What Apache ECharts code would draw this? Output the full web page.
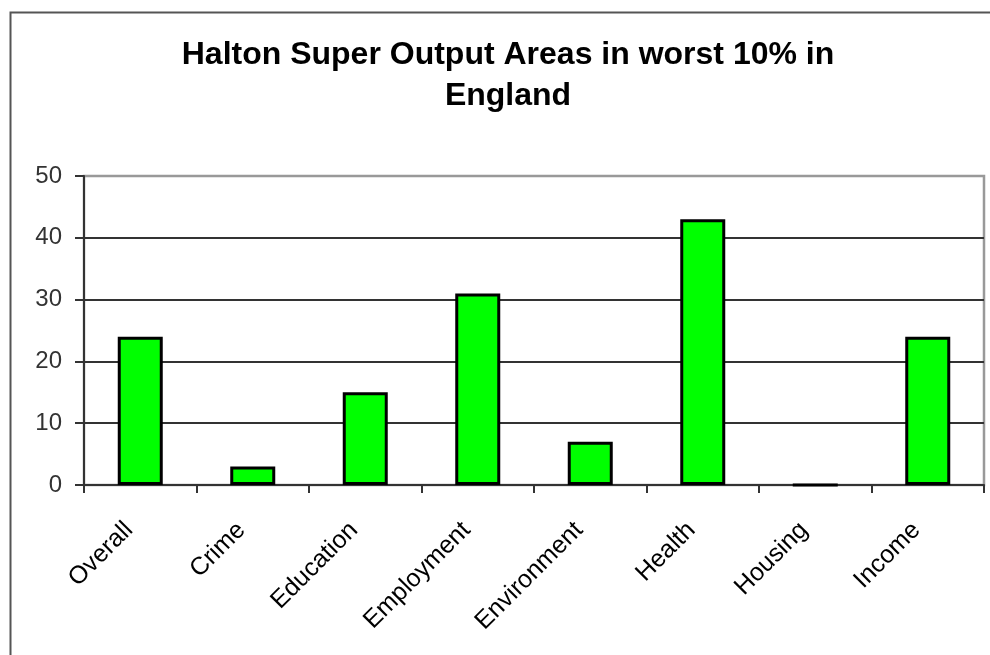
<!DOCTYPE html>
<html>
<head>
<meta charset="utf-8">
<script src="https://cdn.jsdelivr.net/npm/echarts@6/dist/echarts.min.js"></script>
<style>
html,body{margin:0;padding:0;background:#fff;}
#chart{width:990px;height:655px;}
</style>
</head>
<body>
<div id="chart"></div>
<script>
var categories = ['Overall','Crime','Education','Employment','Environment','Health','Housing','Income'];
var values = [24, 3, 15, 31, 7, 43, 0, 24];
var yTicks = [0, 10, 20, 30, 40, 50];

var chart = echarts.init(document.getElementById('chart'));
chart.setOption({
  backgroundColor: '#ffffff',
  animation: false,
  title: {
    text: 'Halton Super Output Areas in worst 10% in\nEngland',
    left: 503,
    textAlign: 'center',
    top: 30,
    textStyle: {
      fontFamily: 'Liberation Sans, Arial, sans-serif',
      fontWeight: 'bold',
      fontSize: 32,
      lineHeight: 41,
      color: '#000'
    }
  },
  graphic: [{
    type: 'rect',
    shape: {x: 10.5, y: 12.5, width: 1200, height: 1000},
    style: {fill: 'none', stroke: '#555', lineWidth: 2},
    silent: true
  }],
  grid: {
    left: 84, right: 6, top: 176, bottom: 170,
    show: true, borderColor: '#999', borderWidth: 2.5, backgroundColor: 'transparent'
  },
  xAxis: {
    type: 'category',
    data: categories,
    axisLine: {lineStyle: {color: '#333', width: 2}},
    axisTick: {show: true, length: 8, lineStyle: {color: '#333', width: 2}},
    axisLabel: {
      rotate: 45, interval: 0, margin: 30,
      padding: [0, 16, 0, 0],
      fontFamily: 'Liberation Sans, Arial, sans-serif', fontSize: 25, color: '#000'
    }
  },
  yAxis: {
    type: 'value',
    min: yTicks[0], max: yTicks[yTicks.length - 1], interval: 10,
    axisLine: {show: true, lineStyle: {color: '#333', width: 2}},
    axisTick: {show: true, length: 9, lineStyle: {color: '#333', width: 2}},
    splitLine: {show: true, showMaxLine: false, lineStyle: {color: '#333', width: 2}},
    axisLabel: {
      margin: 22,
      fontFamily: 'Liberation Sans, Arial, sans-serif', fontSize: 24, color: '#333'
    }
  },
  series: [{
    type: 'bar',
    data: values,
    barWidth: '40%',
    itemStyle: {color: '#00ff00', borderColor: '#000', borderWidth: 3}
  }]
});
</script>
</body>
</html>
